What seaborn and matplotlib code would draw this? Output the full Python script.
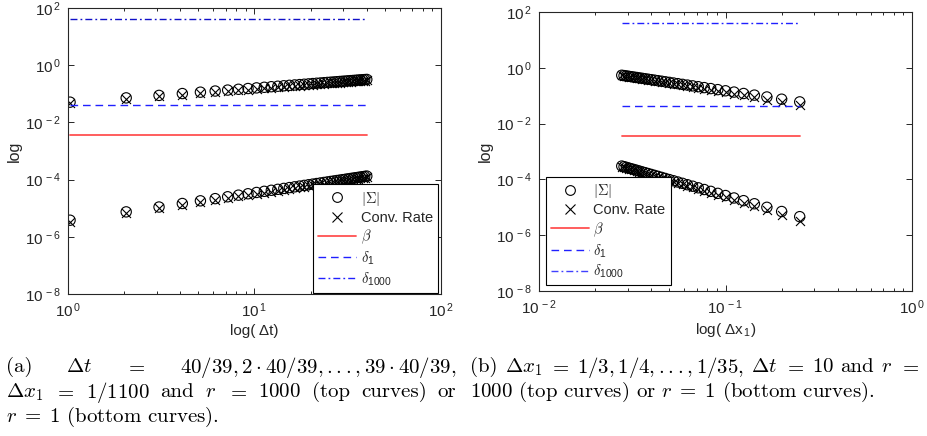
import numpy as np
import matplotlib
matplotlib.use("Agg")
import matplotlib.pyplot as plt
import matplotlib.ticker as mticker
from matplotlib.lines import Line2D
import seaborn as sns

# ---- panel (a): dt = k*40/39, k = 1..39 ----
k_steps = list(range(1, 40))
sigma_top_a = [0.051, 0.072, 0.088, 0.102, 0.114, 0.125, 0.135, 0.144, 0.153, 0.161,
               0.169, 0.177, 0.184, 0.191, 0.198, 0.204, 0.210, 0.216, 0.222, 0.228,
               0.234, 0.239, 0.245, 0.250, 0.255, 0.260, 0.265, 0.270, 0.275, 0.279,
               0.284, 0.289, 0.293, 0.297, 0.302, 0.306, 0.310, 0.314, 0.318]
rate_top_a = [0.047, 0.066, 0.081, 0.094, 0.105, 0.115, 0.124, 0.133, 0.141, 0.148,
              0.155, 0.163, 0.169, 0.176, 0.182, 0.188, 0.193, 0.199, 0.204, 0.210,
              0.215, 0.220, 0.225, 0.230, 0.235, 0.239, 0.244, 0.248, 0.253, 0.257,
              0.261, 0.266, 0.270, 0.273, 0.278, 0.282, 0.285, 0.289, 0.293]
sigma_bot_a = [3.8, 7.44, 11.0, 14.6, 18.1, 21.6, 25.1, 28.6, 32.0, 35.5,
               38.9, 42.3, 45.7, 49.2, 52.6, 55.9, 59.3, 62.7, 66.1, 69.5,
               72.8, 76.2, 79.5, 82.9, 86.2, 89.6, 92.9, 96.2, 99.6, 102.9,
               106.2, 109.6, 112.9, 116.2, 119.5, 122.8, 126.1, 129.4, 132.7]  # x 1e-6
rate_bot_a = [3.4, 6.7, 9.9, 13.1, 16.3, 19.4, 22.6, 25.7, 28.8, 32.0,
              35.0, 38.1, 41.1, 44.3, 47.3, 50.3, 53.4, 56.4, 59.5, 62.6,
              65.5, 68.6, 71.6, 74.6, 77.6, 80.6, 83.6, 86.6, 89.6, 92.6,
              95.6, 98.6, 101.6, 104.6, 107.6, 110.5, 113.5, 116.5, 119.4]  # x 1e-6

# ---- panel (b): dx1 = 1/n ----
n_cells = list(range(4, 37))
sigma_top_b = [0.060, 0.075, 0.090, 0.105, 0.120, 0.135, 0.150, 0.165, 0.180, 0.195,
               0.210, 0.225, 0.240, 0.255, 0.270, 0.285, 0.300, 0.315, 0.330, 0.345,
               0.360, 0.375, 0.390, 0.405, 0.420, 0.435, 0.450, 0.465, 0.480, 0.495,
               0.510, 0.525, 0.540]
rate_top_b = [0.045, 0.058, 0.072, 0.087, 0.102, 0.117, 0.132, 0.147, 0.162, 0.178,
              0.193, 0.208, 0.224, 0.239, 0.254, 0.269, 0.285, 0.300, 0.315, 0.330,
              0.346, 0.361, 0.377, 0.392, 0.407, 0.422, 0.438, 0.453, 0.468, 0.484,
              0.499, 0.514, 0.530]
sigma_bot_b = [4.62, 7.07, 10.0, 13.4, 17.3, 21.6, 26.4, 31.6, 37.3, 43.4,
               50.0, 57.0, 64.4, 72.3, 80.6, 89.3, 98.4, 108.0, 118.0, 128.3,
               139.1, 150.4, 162.0, 174.1, 186.6, 199.4, 212.7, 226.4, 240.4, 254.9,
               269.8, 285.0, 300.7]  # x 1e-6
rate_bot_b = [3.3, 5.4, 8.0, 11.0, 14.6, 18.6, 23.0, 27.9, 33.2, 39.0,
              45.2, 51.8, 58.9, 66.4, 74.4, 82.7, 91.5, 100.7, 110.3, 120.3,
              130.7, 141.6, 152.9, 164.6, 176.8, 189.3, 202.3, 215.7, 229.5, 243.7,
              258.4, 273.4, 289.0]  # x 1e-6

beta = 0.0036
delta_1 = 0.042
delta_1000_a = 41.0
delta_1000_b = 42.0

sns.set_style("ticks")
plt.rcParams["font.family"] = ["Liberation Sans", "DejaVu Sans"]
plt.rcParams["mathtext.fontset"] = "cm"

W, H = 927, 436
fig = plt.figure(figsize=(W / 100, H / 100), dpi=100)

def px_axes(x0, y0, x1, y1):
    return fig.add_axes([x0 / W, 1 - y1 / H, (x1 - x0) / W, (y1 - y0) / H])

ax_a = px_axes(68, 8, 441, 294)
ax_b = px_axes(539, 12, 912, 291)

dark = "0.15"

def draw_panel(ax, x, sig_top, rate_top, sig_bot, rate_bot, d1000, d1000_color):
    x = np.asarray(x)
    for sig, rate in [(sig_top, rate_top), (sig_bot, rate_bot)]:
        sns.scatterplot(x=x, y=sig, marker="o", s=55, facecolor="none",
                        edgecolor="k", linewidth=0.8, ax=ax)
        sns.scatterplot(x=x, y=rate, marker="x", s=42, color="k",
                        linewidth=0.8, ax=ax)
    xs = [x.min(), x.max()]
    sns.lineplot(x=xs, y=[beta, beta], color="#ff5050", linewidth=1.3, ax=ax)
    sns.lineplot(x=xs, y=[delta_1, delta_1], color="#2020ff", linewidth=1.0,
                 ax=ax).lines[-1].set_dashes((5.5, 3.5))
    sns.lineplot(x=xs, y=[d1000, d1000], color=d1000_color, linewidth=1.0,
                 ax=ax).lines[-1].set_dashes((5, 2.2, 1.3, 2.2))

    ax.set_xscale("log")
    ax.set_yscale("log")
    ax.set_ylim(1e-8, 1e2)
    ax.yaxis.set_major_locator(mticker.FixedLocator([1e-8, 1e-6, 1e-4, 1e-2, 1e0, 1e2]))
    ax.yaxis.set_minor_locator(mticker.NullLocator())
    ax.xaxis.set_minor_locator(mticker.LogLocator(base=10, subs=np.arange(2, 10)))
    fmt = mticker.FuncFormatter(lambda v, p: r"$\mathregular{10^{\,%d}}$" % round(np.log10(v)))
    ax.xaxis.set_major_formatter(fmt)
    ax.yaxis.set_major_formatter(fmt)
    ax.xaxis.set_minor_formatter(mticker.NullFormatter())
    ax.tick_params(which="both", direction="in", top=True, right=True,
                   color=dark, labelcolor=dark, labelsize=11, width=0.7)
    ax.tick_params(which="major", length=4, pad=5)
    ax.tick_params(which="minor", length=2.5)
    for s in ax.spines.values():
        s.set_color(dark)
        s.set_linewidth(0.8)
    ax.set_ylabel("log", fontsize=11.5, color=dark, labelpad=2)


draw_panel(ax_a, np.array(k_steps) * 40 / 39, sigma_top_a, rate_top_a,
           np.array(sigma_bot_a) * 1e-6, np.array(rate_bot_a) * 1e-6,
           delta_1000_a, "#1010c8")
ax_a.set_xlim(1, 100)
ax_a.xaxis.set_major_locator(mticker.FixedLocator([1, 10, 100]))
ax_a.set_xlabel("log( Δt)", fontsize=11, color=dark, labelpad=3)

draw_panel(ax_b, 1 / np.array(n_cells), sigma_top_b, rate_top_b,
           np.array(sigma_bot_b) * 1e-6, np.array(rate_bot_b) * 1e-6,
           delta_1000_b, "#2020ff")
ax_b.set_xlim(0.01, 1)
ax_b.xaxis.set_major_locator(mticker.FixedLocator([0.01, 0.1, 1]))
ax_b.set_xlabel(r"log( Δx$_{\mathregular{1}}$)", fontsize=11, color=dark, labelpad=3)


def legend_handles(d1000_color):
    h = [Line2D([], [], ls="", marker="o", mfc="none", mec="k", ms=7, mew=0.8),
         Line2D([], [], ls="", marker="x", color="k", ms=6.5, mew=0.8),
         Line2D([], [], color="#ff5050", lw=1.3),
         Line2D([], [], color="#2020ff", lw=1.0, dashes=(5.5, 3.5)),
         Line2D([], [], color=d1000_color, lw=1.0, dashes=(5, 2.2, 1.3, 2.2))]
    labels = [r"$|\Sigma|$", "Conv. Rate", r"$\beta$",
              r"$\delta_{\mathregular{1}}$", r"$\delta_{\mathregular{1000}}$"]
    return h, labels


for ax, loc, anchor, c in [(ax_a, "lower right", (0.992, 0.004), "#2020ff"),
                           (ax_b, "lower left", (0.019, 0.02), "#4040ff")]:
    h, l = legend_handles(c)
    leg = ax.legend(h, l, loc=loc, bbox_to_anchor=anchor, borderaxespad=0,
                    fontsize=10.5, frameon=True, fancybox=False, framealpha=1,
                    edgecolor="k", handlelength=2.6, handletextpad=0.3,
                    borderpad=0.35, labelspacing=0.22, numpoints=1)
    leg.get_frame().set_linewidth(0.8)
    for t in leg.get_texts():
        t.set_color(dark)

# captions (justified lines are spread word by word)
cap = dict(family="cmr10", fontsize=15, va="center", color="k")
renderer = fig.canvas.get_renderer()

def ftext(x, y, s, **kw):
    d = dict(cap)
    d.update(kw)
    return fig.text(x / W, 1 - y / H, s, **d)

def justify(words, x0, x1, y):
    texts = [ftext(x0, y, w) for w in words]
    widths = [t.get_window_extent(renderer).width for t in texts]
    gap = (x1 - x0 - sum(widths)) / (len(words) - 1)
    x = x0
    for t, w in zip(texts, widths):
        t.set_x(x / W)
        x += w + gap

justify(["(a)", r"$\Delta t$", r"$=$", r"$40/39, 2\cdot 40/39, ..., 39\cdot 40/39,$"],
        6, 456, 367)
justify([r"$\Delta x_1$", r"$=$", r"$1/1100$", "and", r"$r$", r"$=$", r"$1000$",
         "(top", "curves)", "or"], 6, 456, 392)
ftext(6, 417, r"$r \;=\; 1$ (bottom curves).")
justify(["(b)", r"$\Delta x_1$", r"$=$", r"$1/3, 1/4, ..., 1/35,$", r"$\Delta t$",
         r"$=$", r"$10$", "and", r"$r$", r"$=$"], 470, 920, 367)
ftext(470, 392, r"1000 (top curves) or $r \;=\; 1$ (bottom curves).")

fig.savefig("out.png", dpi=100)
